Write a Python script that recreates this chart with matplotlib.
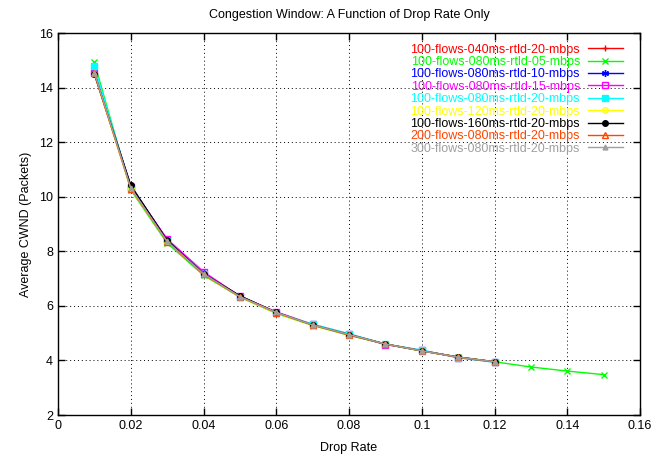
import matplotlib
matplotlib.use("Agg")
import matplotlib.pyplot as plt
from matplotlib.ticker import FuncFormatter

plt.rcParams['font.family'] = ['Liberation Sans', 'DejaVu Sans']

drop = [0.01, 0.02, 0.03, 0.04, 0.05, 0.06, 0.07, 0.08, 0.09, 0.10, 0.11, 0.12]
drop_long = drop + [0.13, 0.14, 0.15]

cwnd_040_20 = [14.50, 10.35, 8.40, 7.20, 6.35, 5.75, 5.30, 4.95, 4.60, 4.35, 4.12, 3.95]
cwnd_080_05 = [14.92, 10.25, 8.30, 7.12, 6.32, 5.72, 5.28, 4.92, 4.60, 4.35, 4.13, 3.95, 3.76, 3.61, 3.48]
cwnd_080_10 = [14.60, 10.40, 8.42, 7.20, 6.36, 5.76, 5.30, 4.95, 4.60, 4.36, 4.12, 3.95]
cwnd_080_15 = [14.55, 10.35, 8.45, 7.25, 6.35, 5.78, 5.32, 4.97, 4.58, 4.37, 4.10, 3.94]
cwnd_080_20 = [14.78, 10.30, 8.38, 7.18, 6.33, 5.74, 5.33, 4.98, 4.60, 4.38, 4.10, 3.93]
cwnd_120_20 = [14.50, 10.28, 8.35, 7.15, 6.32, 5.73, 5.28, 4.93, 4.60, 4.34, 4.12, 3.95]
cwnd_160_20 = [14.50, 10.42, 8.40, 7.18, 6.37, 5.76, 5.30, 4.95, 4.60, 4.35, 4.12, 3.95]
cwnd_200f_080_20 = [14.52, 10.30, 8.35, 7.15, 6.33, 5.75, 5.30, 4.93, 4.60, 4.35, 4.12, 3.95]
cwnd_300f_080_20 = [14.55, 10.32, 8.36, 7.17, 6.34, 5.76, 5.30, 4.95, 4.60, 4.35, 4.12, 3.95]

labels = ['100-flows-040ms-rtld-20-mbps', '100-flows-080ms-rtld-05-mbps',
          '100-flows-080ms-rtld-10-mbps', '100-flows-080ms-rtld-15-mbps',
          '100-flows-080ms-rtld-20-mbps', '100-flows-120ms-rtld-20-mbps',
          '100-flows-160ms-rtld-20-mbps', '200-flows-080ms-rtld-20-mbps',
          '300-flows-080ms-rtld-20-mbps']

fig = plt.figure(figsize=(6.72, 4.58), dpi=100)
ax = fig.add_axes([58/672, 43/458, 582/672, 382/458])

# (x, y, color, marker, markerfacecolor, markersize)
series = [
    (drop, cwnd_040_20, '#ff0000', '+', 'none', 5),
    (drop_long, cwnd_080_05, '#00ff00', 'x', 'none', 4),
    (drop, cwnd_080_10, '#0000ff', (6, 2, 0), 'none', 5),
    (drop, cwnd_080_15, '#ff00ff', 's', 'none', 4),
    (drop, cwnd_080_20, '#00ffff', 's', '#00ffff', 4),
    (drop, cwnd_120_20, '#ffff00', 'o', 'none', 4),
    (drop, cwnd_160_20, '#000000', 'o', '#000000', 4),
    (drop, cwnd_200f_080_20, '#ff4500', '^', 'none', 4),
    (drop, cwnd_300f_080_20, '#a0a0a0', '^', '#a0a0a0', 3.5),
]
for (x, y, c, m, mfc, ms), lab in zip(series, labels):
    ax.plot(x, y, color=c, marker=m, mfc=mfc, mec=c, ms=ms, lw=1, mew=1, label=lab)

ax.set_xlim(0, 0.16)
ax.set_ylim(2, 16)
ax.set_xticks([0, 0.02, 0.04, 0.06, 0.08, 0.10, 0.12, 0.14, 0.16])
ax.set_yticks([2, 4, 6, 8, 10, 12, 14, 16])
ax.xaxis.set_major_formatter(FuncFormatter(lambda v, p: '%g' % round(v, 4)))
ax.tick_params(direction='in', top=True, right=True, labelsize=9, length=5, width=1)
ax.grid(True, linestyle=(0, (1, 3)), color='#000000', lw=0.7)
for s in ax.spines.values():
    s.set_linewidth(1)

ax.set_title('Congestion Window: A Function of Drop Rate Only', fontsize=9, pad=11)
ax.set_xlabel('Drop Rate', fontsize=9, labelpad=7)
ax.set_ylabel('Average CWND (Packets)', fontsize=9, labelpad=5)

leg = ax.legend(loc='upper right', bbox_to_anchor=(0.985, 0.995), markerfirst=False,
                labelcolor='linecolor', fontsize=9, frameon=False,
                handlelength=2.8, labelspacing=0.03, handletextpad=0.6, borderpad=0.2)
for t in leg.get_texts():
    t.set_ha('right')

fig.savefig('out.png', dpi=100)
